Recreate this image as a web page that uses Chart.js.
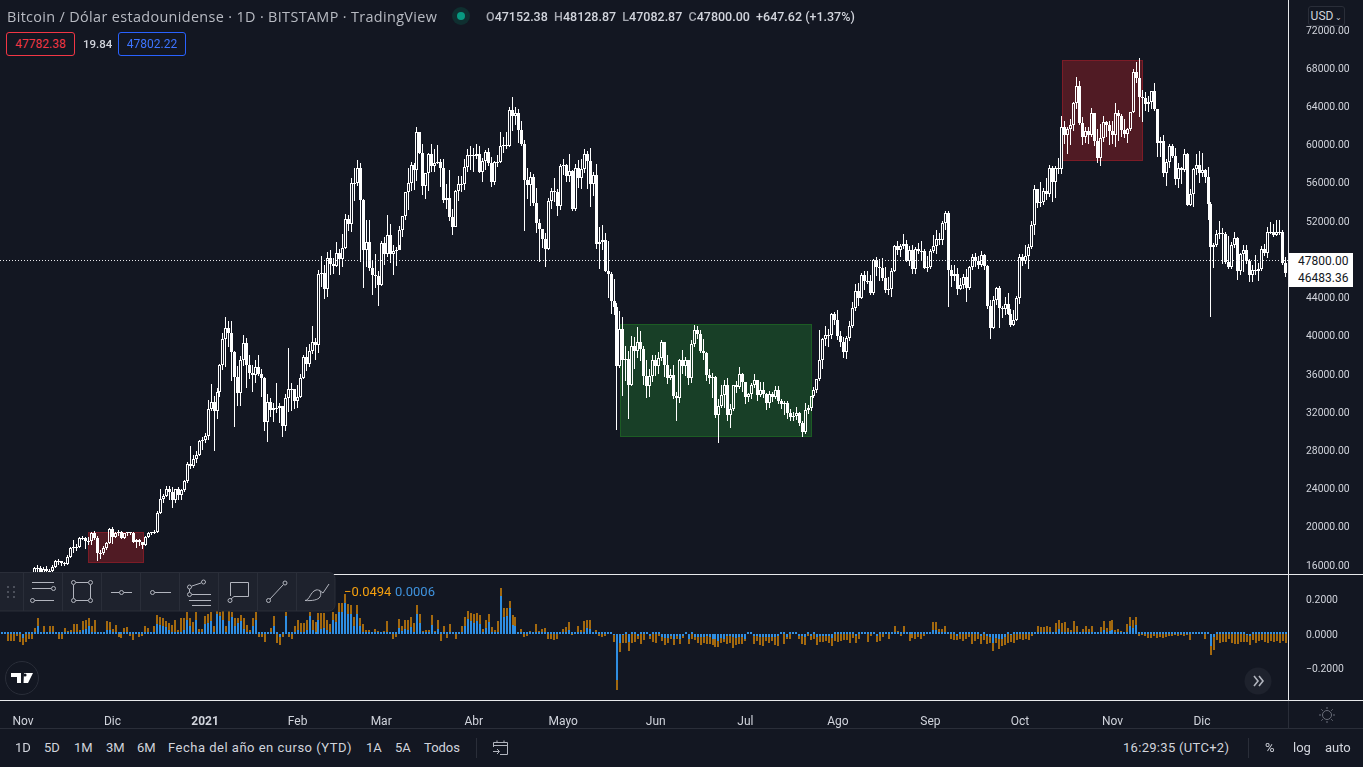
<!DOCTYPE html>
<html>
<head>
<meta charset="utf-8">
<title>BTCUSD</title>
<script src="https://cdn.jsdelivr.net/npm/chart.js@4/dist/chart.umd.min.js"></script>
<style>
  html, body { margin: 0; padding: 0; background: #131722; overflow: hidden; }
  body { width: 1363px; height: 767px; position: relative; font-family: Roboto, sans-serif; color: #d1d4dc; }
  canvas { position: absolute; left: 0; display: block; }
  .t { position: absolute; white-space: nowrap; font-size: 13px; line-height: 16px; }
  .hl { position: absolute; background: #d1d4dc; }
  .dim { position: absolute; background: #2a2e39; }
  .gray { color: #a3a6af; }
  .box { position: absolute; border-radius: 3px; font-size: 12px; line-height: 22px; text-align: center; box-sizing: border-box; height: 24px; background: #131722; }
  .lastp { position: absolute; left: 1289px; width: 64px; height: 17px; background: #fff; color: #131722; font-size: 12px; line-height: 17px; padding-left: 9px; box-sizing: border-box; }
</style>
</head>
<body>
<canvas id="price" width="1363" height="574" style="top:0"></canvas>
<canvas id="osc" width="1363" height="153" style="top:575px"></canvas>

<div class="hl" style="left:0;top:574px;width:1363px;height:1px;background:#e8e9ec"></div>
<div class="hl" style="left:0;top:700px;width:1363px;height:1px;background:#e8e9ec"></div>
<div class="hl" style="left:1288px;top:0;width:1px;height:701px;background:#e8e9ec"></div>
<div class="dim" style="left:0;top:728px;width:1363px;height:1px"></div>
<div class="dim" style="left:1288px;top:701px;width:1px;height:27px"></div>

<div class="t gray" style="left:7px;top:9px;font-family:'Open Sans',sans-serif;font-size:14.4px;letter-spacing:.35px;color:#b8bbc3">Bitcoin / Dólar estadounidense · 1D · BITSTAMP · TradingView</div>
<svg style="position:absolute;left:451px;top:7px" width="20" height="20"><circle cx="10" cy="9" r="9" fill="#0f2f30"/><circle cx="10" cy="9" r="4" fill="#089981"/></svg>
<div class="t" style="left:486px;top:9px;font-size:12.5px;font-weight:500"><span class="gray">O</span>47152.38&nbsp; <span class="gray">H</span>48128.87&nbsp; <span class="gray">L</span>47082.87&nbsp; <span class="gray">C</span>47800.00&nbsp; +647.62 (+1.37%)</div>
<div class="box" style="left:6px;top:32px;width:69px;border:1px solid #f23645;color:#f23645">47782.38</div>
<div class="t" style="left:83px;top:36px;font-size:11.5px;font-weight:500">19.84</div>
<div class="box" style="left:118px;top:32px;width:68px;border:1px solid #2962ff;color:#3d74ff">47802.22</div>
<div class="box" style="left:1308px;top:6px;width:37px;height:20px;line-height:18px;border:1px solid #2a2e39;font-size:12px;color:#d1d4dc">USD<span style="font-size:8px"> ⌄</span></div>
<div class="lastp" style="top:253px">47800.00</div>
<div class="lastp" style="top:270px">46483.36</div>

<div class="t" style="left:344px;top:584px;font-size:13px;color:#f5a00f">−0.0494</div>
<div class="t" style="left:395px;top:584px;font-size:13px;color:#3f93de">0.0006</div>

<!-- drawing toolbar -->
<svg style="position:absolute;left:0;top:572px" width="336" height="40" fill="none" stroke="#b2b5be" stroke-width="1">
  <path d="M-2 .5H329a6 6 0 0 1 6 6V33a6 6 0 0 1-6 6H-2Z" fill="#1e222d" stroke="#2a2e39"/>
  <path d="M23.5 1V39M62.5 1V39M101.5 1V39M140.5 1V39M179.5 1V39M218.5 1V39M257.5 1V39M296.5 1V39" stroke="#2a2e39"/>
  <g fill="#4c505b" stroke="none"><rect x="7" y="14" width="2" height="2"/><rect x="13" y="14" width="2" height="2"/><rect x="7" y="19" width="2" height="2"/><rect x="13" y="19" width="2" height="2"/><rect x="7" y="24" width="2" height="2"/><rect x="13" y="24" width="2" height="2"/></g>
  <path d="M32 10.5H54M32 16.5H51M35 28.5H54"/><circle cx="53.5" cy="16.5" r="2"/><circle cx="32.5" cy="28.5" r="2"/>
  <path d="M76 10.5H88M76 28.5H88M73.5 13V26M90.5 13V26"/><circle cx="73.5" cy="10.5" r="2"/><circle cx="90.5" cy="10.5" r="2"/><circle cx="73.5" cy="28.5" r="2"/><circle cx="90.5" cy="28.5" r="2"/>
  <path d="M111 20.5H119M124 20.5H132"/><circle cx="121.5" cy="20.5" r="2"/>
  <path d="M155 20.5H171"/><circle cx="152.5" cy="20.5" r="2"/>
  <path d="M192 14L201 11M189.5 17V20M192 22.5H211M189 28.5H211M192 33.5H211" /><circle cx="189.5" cy="15" r="2"/><circle cx="203.5" cy="10" r="2"/><circle cx="189.5" cy="22.5" r="2"/>
  <path d="M230.5 10.5H248.5V24.5H234L231 27M230.5 10.5V24"/><circle cx="230" cy="28.5" r="2"/>
  <path d="M270 27L283 13"/><circle cx="268.5" cy="28.5" r="2"/><circle cx="285" cy="11" r="2"/>
  <path d="M305 28.5C310 28 310 20 316 18C320 17 322 21 320 25C318 28 312 29 305 28.5ZM319 18L323 21L329 12"/>
</svg>

<!-- logo and scroll button -->
<svg style="position:absolute;left:4px;top:660px" width="36" height="36"><circle cx="18" cy="18" r="16.5" fill="#131722" stroke="#2a2e39"/>
  <path d="M7 13H17V23H13V17H7ZM20 13H29L24 23H19.5Z" fill="#fff"/><circle cx="21" cy="15" r="1.6" fill="#131722"/></svg>
<svg style="position:absolute;left:1244px;top:667px" width="28" height="28"><circle cx="14" cy="14" r="13.5" fill="#1e222d"/><path d="M10 9L14 14L10 19M15 9L19 14L15 19" fill="none" stroke="#b2b5be" stroke-width="1.6"/></svg>
<svg style="position:absolute;left:1318px;top:706px" width="18" height="18" fill="none" stroke="#6b6f7a"><circle cx="9" cy="9" r="4.5"/><path d="M9 1V3M9 15V17M1 9H3M15 9H17M3.3 3.3L4.8 4.8M13.2 13.2L14.7 14.7M3.3 14.7L4.8 13.2M13.2 4.8L14.7 3.3"/></svg>

<!-- bottom bar -->
<div class="t" style="left:15px;top:740px">1D</div>
<div class="t" style="left:44px;top:740px">5D</div>
<div class="t" style="left:74px;top:740px">1M</div>
<div class="t" style="left:106px;top:740px">3M</div>
<div class="t" style="left:137px;top:740px">6M</div>
<div class="t" style="left:168px;top:740px;letter-spacing:.5px">Fecha del año en curso (YTD)</div>
<div class="t" style="left:366px;top:740px">1A</div>
<div class="t" style="left:395px;top:740px">5A</div>
<div class="t" style="left:424px;top:740px">Todos</div>
<div class="dim" style="left:476px;top:738px;width:1px;height:20px"></div>
<svg style="position:absolute;left:491px;top:739px" width="20" height="18" fill="none" stroke="#b2b5be"><path d="M2.5 8V3.5H16.5V15.5H9M2.5 6.5H16.5M6 1.5V4M13 1.5V4M2 12.5H8M6 10L8.5 12.5L6 15"/></svg>
<div class="t" style="left:1123px;top:740px;letter-spacing:.3px">16:29:35 (UTC+2)</div>
<div class="dim" style="left:1248px;top:738px;width:1px;height:20px"></div>
<div class="t" style="left:1265px;top:740px">%</div>
<div class="t" style="left:1293px;top:740px">log</div>
<div class="t" style="left:1325px;top:740px">auto</div>

<script>
// daily candles, Oct 24 2020 to Dec 29 2021, prices in thousands of USD
const firstOpen = 12.9;
const closes = [
  13.0,13.0,13.1,13.6,13.3,13.5,13.6,13.8,
  13.8,13.6,14.0,14.1,15.6,15.6,14.8,15.5,15.3,15.3,15.7,16.3,16.3,16.1,16.0,16.7,17.7,17.8,17.8,18.7,18.7,18.4,18.4,19.2,18.7,17.1,17.1,17.7,18.2,19.7,
  18.8,19.2,19.4,18.7,19.2,19.4,19.2,18.3,18.5,18.3,18.0,18.8,19.2,19.3,19.4,21.3,22.8,23.1,23.9,23.5,22.7,23.8,23.2,23.7,24.7,26.5,26.3,27.0,27.4,28.9,29.0,
  29.4,32.2,33.0,32.0,34.0,36.8,39.5,40.7,40.2,38.2,35.6,33.9,37.4,39.1,36.8,36.0,35.8,36.6,35.9,35.5,30.9,33.0,32.1,32.3,32.3,32.5,30.4,33.4,34.3,34.3,33.1,
  33.5,35.5,37.7,36.9,38.3,39.2,38.9,46.4,46.5,44.8,48.0,47.4,47.2,48.6,47.9,49.1,52.1,51.6,55.9,55.9,57.4,54.1,48.9,49.7,47.0,46.2,46.1,45.2,
  49.6,48.4,50.4,48.4,48.8,48.9,51.0,52.4,54.9,55.9,57.8,57.2,61.2,59.0,55.6,56.9,58.9,57.7,58.0,58.1,57.4,54.1,54.3,52.3,51.3,55.0,55.8,55.8,57.6,58.8,58.8,
  58.7,58.9,57.0,58.2,59.1,58.0,56.0,58.1,58.1,59.8,59.9,59.8,63.5,62.9,63.2,61.4,60.0,56.2,55.7,56.5,53.8,51.7,51.1,50.0,49.0,54.0,55.0,54.9,53.5,57.7,
  57.8,56.6,57.1,53.2,57.4,56.4,57.3,58.9,58.2,55.8,56.7,49.5,49.7,49.9,46.7,46.4,43.5,42.9,36.7,40.6,37.3,37.5,34.7,38.8,38.3,39.2,38.5,35.7,34.6,35.7,37.3,
  36.7,37.6,39.2,36.8,35.5,35.8,33.6,33.4,37.4,36.7,37.3,35.5,39.0,40.5,40.1,38.3,38.1,35.8,35.5,35.6,31.6,32.5,33.7,34.7,31.6,32.2,34.7,34.5,35.9,35.0,
  33.5,33.8,34.7,35.3,33.7,34.2,33.8,32.9,33.8,33.5,34.2,33.1,32.7,32.8,31.8,31.4,31.5,31.8,30.8,29.8,32.1,32.3,33.6,34.2,35.4,37.3,39.5,40.0,40.0,42.2,41.5,
  39.9,39.2,38.2,39.7,40.9,42.8,44.6,43.8,46.3,45.6,45.6,44.4,47.8,47.1,47.0,45.9,44.7,44.8,46.7,49.3,48.9,49.3,49.5,47.7,48.9,46.9,49.0,48.8,48.8,47.0,47.1,
  48.8,49.3,50.0,49.9,51.7,52.7,46.8,46.1,46.4,44.8,45.2,46.0,44.9,47.1,48.1,47.7,47.3,48.3,47.2,43.0,40.7,43.6,44.9,42.8,42.7,43.2,42.2,41.0,41.5,43.8,
  48.1,47.7,48.2,49.2,51.5,55.3,53.8,53.9,55.0,54.7,57.5,56.0,57.4,57.3,61.7,60.9,61.5,62.0,64.3,66.0,62.2,60.7,61.3,60.9,63.2,60.3,58.5,60.6,62.3,61.9,61.3,
  60.9,63.2,62.9,61.4,61.0,61.5,63.3,67.5,66.9,64.9,64.8,64.1,64.4,65.5,63.6,60.1,60.3,56.9,58.1,59.7,58.7,56.3,57.5,57.2,58.9,53.6,54.7,57.3,57.8,56.95,
  57.2,56.5,53.7,49.2,49.4,50.5,50.6,50.5,47.6,47.1,49.4,50.1,46.7,48.4,48.9,47.7,46.2,46.8,46.7,46.9,49.0,48.6,50.8,50.8,50.4,50.8,50.7,47.5,46.5
];
const highs = [
  13.2,13.2,13.3,13.8,13.9,13.6,13.7,14.1,
  13.9,13.9,14.1,14.3,15.7,15.9,15.8,15.7,15.8,15.5,15.9,16.4,16.5,16.3,16.2,16.9,17.8,18.5,18.1,18.8,18.9,18.8,18.8,19.4,19.5,18.9,17.5,17.9,18.3,19.8,
  19.9,19.3,19.6,19.5,19.2,19.4,19.4,19.3,18.6,18.6,18.3,18.9,19.4,19.4,19.6,21.5,23.8,23.3,24.2,24.2,24.1,23.9,24.1,23.8,24.8,26.7,28.4,27.4,27.8,29.0,29.3,
  29.7,33.2,34.8,33.6,34.4,36.9,40.2,41.9,41.4,41.4,38.3,36.7,37.8,40.0,39.7,37.9,36.8,37.3,37.9,36.4,35.6,33.8,33.4,32.9,34.9,32.9,32.5,33.8,38.6,34.9,34.3,
  34.7,35.9,37.9,38.7,39.0,40.9,39.7,46.8,48.2,47.3,48.7,48.9,48.0,49.7,49.0,50.5,52.6,52.5,56.4,57.5,58.3,58.0,54.2,52.0,52.0,47.8,48.4,46.7,
  49.8,50.2,52.5,51.6,49.4,49.2,51.4,52.4,54.9,57.4,58.1,58.0,61.7,61.1,60.0,56.9,59.0,60.0,59.4,59.9,58.4,58.4,55.8,57.2,53.2,55.1,56.6,56.6,58.4,59.4,59.8,
  59.5,60.0,59.7,58.5,59.3,59.5,58.6,58.2,58.8,61.2,60.7,61.2,63.8,64.9,63.8,63.6,62.4,60.4,57.5,57.0,56.8,55.4,52.1,51.1,50.6,54.3,55.4,56.4,55.2,57.9,
  58.4,57.9,58.9,57.2,57.9,58.3,58.4,59.4,59.2,59.5,57.0,57.9,51.3,51.5,50.6,49.8,46.6,45.8,43.3,42.5,41.9,38.8,38.3,39.9,39.8,40.8,40.4,38.8,37.3,36.4,37.9,
  37.9,38.2,39.4,39.2,37.9,36.4,36.8,34.0,37.5,38.4,37.7,37.4,39.4,41.0,40.9,40.5,39.5,38.2,36.4,36.0,35.7,33.3,34.7,35.3,35.5,32.7,34.7,35.2,36.6,36.0,
  35.0,33.9,34.9,35.9,35.3,35.0,35.0,33.9,34.1,34.0,34.6,34.6,33.3,33.1,33.1,32.2,31.9,32.4,31.9,31.0,32.8,32.6,33.6,34.5,35.4,40.5,39.7,40.9,40.6,42.3,42.4,
  42.6,40.4,39.8,39.9,41.4,43.4,45.3,45.4,46.5,46.7,46.7,46.2,47.9,48.1,47.9,48.0,47.1,46.0,47.0,49.4,49.8,49.5,50.5,49.9,49.3,49.4,49.2,49.6,49.8,49.0,48.2,
  49.0,50.4,51.0,50.6,51.9,52.9,52.9,47.3,47.3,47.0,45.9,46.4,46.9,47.2,48.4,48.5,48.2,48.8,48.4,47.3,43.6,44.0,45.0,45.1,43.0,43.9,44.4,42.7,42.6,44.1,
  48.4,48.4,49.4,49.5,51.9,55.7,55.1,56.0,55.4,56.4,57.8,57.7,57.7,58.5,62.9,62.4,61.7,62.6,64.4,67.0,66.6,62.8,61.7,61.7,63.7,63.2,61.5,62.1,62.9,62.4,62.4,
  62.4,64.3,63.5,63.1,62.6,61.6,63.3,67.8,68.5,69.0,65.6,65.4,65.0,65.4,66.3,63.5,60.7,60.9,58.4,60.0,60.0,59.5,58.0,57.6,59.4,59.0,55.3,57.5,58.9,59.2,
  59.0,57.3,57.6,53.9,49.6,51.0,51.9,51.2,50.8,50.3,49.7,50.8,50.2,48.5,49.4,49.4,47.9,47.3,48.3,47.5,49.3,49.5,51.3,51.8,51.6,52.0,52.0,51.0,48.1
];
const lows = [
  12.9,12.9,12.8,13.0,12.9,13.0,13.1,13.5,
  13.6,13.3,13.5,13.8,14.1,15.2,14.4,14.7,15.1,15.1,15.3,15.6,15.9,15.8,15.8,15.9,16.6,17.2,17.4,17.7,18.5,17.6,18.0,18.0,18.5,16.3,16.5,16.9,17.5,18.2,
  18.1,18.7,18.9,18.6,18.6,18.9,19.0,18.2,17.7,17.9,17.6,18.0,18.7,19.0,19.1,19.4,21.2,22.4,23.0,22.7,21.9,22.4,22.7,22.7,23.5,24.5,25.9,26.1,26.6,27.3,27.9,
  28.7,29.0,32.0,27.8,31.2,33.5,36.3,36.6,38.7,35.2,30.3,32.5,32.5,36.7,34.4,35.4,34.0,34.9,35.7,33.5,29.9,28.8,31.4,30.9,31.8,30.8,29.3,29.9,31.9,32.0,32.2,
  32.3,33.4,35.4,36.2,36.6,38.0,37.4,38.1,45.0,43.7,43.9,46.2,46.4,47.1,46.3,47.1,49.0,50.9,50.7,54.0,55.6,47.6,44.9,47.1,46.7,44.2,44.9,43.0,
  45.2,47.3,48.1,47.5,46.3,47.2,49.4,50.2,52.0,53.1,55.0,55.1,56.1,59.0,54.6,54.2,55.0,57.0,57.0,57.9,55.5,53.8,53.2,51.9,50.4,51.4,54.0,54.9,55.1,57.0,57.2,
  57.0,58.4,56.9,56.0,57.2,57.7,55.5,55.7,57.6,58.0,59.0,59.4,59.8,61.3,62.0,60.1,59.7,50.9,54.2,53.5,53.5,50.6,47.6,49.1,47.1,48.9,53.2,53.9,52.4,53.1,
  56.7,56.0,56.0,53.0,52.9,55.4,55.3,56.9,55.2,53.4,54.5,49.0,46.9,48.9,46.6,43.8,42.2,42.1,30.0,36.5,33.6,35.2,31.2,34.7,36.4,37.6,37.2,34.7,33.4,33.5,35.0,
  35.7,35.9,37.2,35.6,34.8,35.3,33.3,31.0,32.9,35.9,35.7,34.7,34.9,38.7,39.5,38.1,37.4,35.2,34.8,33.4,31.3,28.7,32.3,32.3,31.0,30.2,32.0,33.9,34.3,34.0,
  32.7,33.0,33.3,34.4,33.1,33.5,33.4,32.1,32.3,33.0,33.3,32.7,32.2,31.6,31.2,31.0,31.0,31.1,30.4,29.3,29.6,31.7,32.0,33.4,33.9,35.2,36.4,38.8,38.7,39.5,41.0,
  39.4,38.7,37.6,37.5,39.3,40.7,42.5,43.0,43.7,44.7,45.3,44.2,44.2,46.1,45.6,45.6,44.4,44.2,43.9,46.6,48.3,48.1,49.0,47.6,47.2,46.4,46.4,48.4,47.8,46.9,46.6,
  46.9,48.5,48.4,49.4,49.4,51.0,42.9,45.0,45.6,44.2,44.8,44.8,43.4,44.7,46.8,47.1,46.9,47.1,46.8,42.7,39.6,40.7,43.1,40.7,41.7,42.1,42.1,40.8,41.0,41.5,
  43.2,47.2,47.4,46.9,49.0,50.4,53.3,53.4,53.6,54.1,54.4,53.9,54.3,56.8,56.8,60.0,58.9,59.9,61.3,63.6,62.0,59.9,60.1,60.0,60.7,59.8,58.0,57.7,60.2,60.7,59.9,
  60.0,59.6,60.3,60.7,60.6,60.1,61.3,63.3,66.3,62.8,62.3,63.4,63.3,63.6,63.4,58.6,58.6,56.5,55.6,57.5,58.5,55.7,55.4,55.8,57.0,53.5,53.6,53.4,56.7,55.9,
  56.5,55.9,52.0,41.9,47.0,49.2,50.0,47.4,47.4,46.9,46.9,49.1,45.7,46.3,46.6,47.4,45.5,45.5,46.3,45.6,46.7,48.2,48.0,50.5,50.2,50.4,50.4,47.3,46.0
];
const priceTicks = [16000,20000,24000,28000,32000,36000,40000,44000,48000,52000,56000,60000,64000,68000,72000];
const lastPrice = 47800;

// drawn boxes: first candle, last candle, low price, high price
const redZones = [[29.8,48.2,16210,19350],[356,382.9,58290,68750]];
const greenZones = [[208,272,29400,41120]];

// oscillator pane, in thousandths
const oscOrange = [
  15,15,15,-40,-40,-40,-10,-45,-65,-45,
  -25,-25,35,95,15,45,15,45,50,15,
  -30,-25,38,18,25,60,60,25,75,85,
  95,45,80,15,10,15,75,70,30,55,
  -15,-20,35,40,-10,-35,15,-15,-10,50,
  35,15,50,110,100,95,75,65,55,80,
  25,95,95,130,95,70,130,30,30,105,
  120,130,50,135,130,135,50,135,130,95,
  95,110,95,55,25,95,130,-15,-15,-45,
  10,35,105,-50,-65,-15,130,-15,-30,45,
  85,65,65,85,130,80,70,125,125,125,
  85,60,130,120,180,
  180,235,175,170,100,170,95,60,25,25,
  15,30,20,15,20,75,15,-30,-15,90,
  50,85,80,100,65,170,115,20,25,25,
  110,20,85,-40,45,-20,60,15,-25,15,
  50,100,135,125,115,125,110,30,85,120,
  40,25,75,265,150,150,195,110,100,15,
  30,-15,-10,20,15,60,20,30,35,-30,
  -30,-35,-25,10,30,40,70,-5,15,50,
  25,75,85,80,15,25,-10,-15,-10,15,
  10,-45,-322,-105,-50,-50,-100,-50,-45,-25,
  -55,-35,10,-30,-45,-50,-10,-40,-60,-50,
  -30,-60,-30,-55,-20,10,-55,-30,-35,-50,
  -60,-50,-55,-55,-65,-75,-75,-50,-45,-55,
  -50,-80,-60,-55,-55,-40,10,10,-55,-40,
  -60,-70,-40,-50,-40,-60,-70,10,-55,-30,
  -25,10,10,-30,-55,-60,-10,-35,-30,-60,
  -45,-45,-40,-50,-70,-40,-45,-40,-35,-35,
  -50,-20,-50,-25,10,10,-45,-10,10,-45,
  -40,-15,15,-25,15,50,20,-10,45,15,
  -40,-20,-30,-15,-30,-10,10,15,70,70,
  30,30,45,10,-30,-35,-35,-30,-40,-25,
  -15,-55,-40,-30,-55,-35,-55,-50,-100,-50,
  -85,-70,-60,-50,-45,-50,-35,-25,-35,-25,
  -35,-10,15,45,40,40,50,40,15,65,
  80,65,70,35,25,75,50,15,30,45,
  30,45,15,15,40,75,35,75,80,25,
  30,20,15,60,100,80,100,-10,-5,-10,
  -20,-20,-10,-20,-15,-20,-15,-10,-10,-5,
  -10,-5,-10,-5,-35,10,10,10,15,-30,
  10,-120,-90,-35,-50,-45,-45,-30,-50,-55,
  -55,-45,-45,-45,-60,-35,-50,-40,-35,-45,
  -50,-40,-45,-40,-50,-40,-50
];
const oscBlue = [
  15,15,15,15,15,15,15,15,-20,15,
  15,15,15,45,15,15,15,15,15,15,
  15,15,15,15,15,15,15,15,25,30,
  50,15,15,15,10,15,25,25,15,15,
  15,15,10,15,15,15,15,10,15,15,
  15,15,15,60,55,50,40,25,15,15,
  15,15,25,85,45,15,85,10,10,60,
  65,75,15,120,105,85,15,75,100,50,
  65,75,30,15,10,50,85,15,15,15,
  10,15,50,15,-15,15,105,15,15,15,
  25,15,15,25,105,25,15,80,30,35,
  25,15,80,70,130,
  130,180,120,120,50,115,45,15,15,15,
  15,15,15,15,15,15,15,15,15,35,
  20,30,25,40,15,115,65,15,15,15,
  55,15,30,15,15,15,15,15,15,15,
  15,50,90,75,65,75,60,15,35,70,
  15,15,15,220,100,105,150,55,45,15,
  10,10,10,10,10,10,10,10,10,10,
  10,10,10,10,10,15,25,10,15,10,
  10,15,35,30,10,10,10,10,10,10,
  10,-5,-268,-50,-5,10,-45,10,10,-10,
  10,10,10,-10,10,10,10,-15,-20,-20,
  -10,-25,-10,-25,-10,10,-25,10,-15,-15,
  -15,-15,-10,-15,-25,-30,-40,-20,-25,-10,
  -10,-15,-20,-15,-15,-25,10,10,-10,-10,
  -15,-15,-15,-15,-15,-15,-10,10,10,-15,
  10,10,10,-10,-10,-15,10,-10,10,-15,
  -10,-10,-10,-10,-20,10,10,10,10,10,
  10,10,-10,10,10,10,10,10,10,-10,
  10,10,15,10,10,15,15,10,10,10,
  10,10,10,10,10,10,15,15,25,25,
  15,15,15,10,10,10,-10,10,10,10,
  10,10,10,10,-10,10,-10,-15,-50,-20,
  -30,-25,-15,10,-5,10,10,10,10,10,
  10,10,10,10,15,15,15,15,10,10,
  30,10,15,10,15,15,15,10,10,15,
  10,10,10,10,15,25,10,20,25,15,
  15,10,10,15,50,35,55,10,10,10,
  10,10,10,10,10,10,10,10,10,10,
  10,10,10,10,10,10,10,10,10,10,
  10,-70,-15,10,10,10,10,10,10,10,
  10,10,10,-5,-10,10,10,10,10,10,
  10,10,10,10,10,10,10
];
const oscTicks = [0.2, 0, -0.2];

// x axis labels and the candle each one sits on
const monthLabels = ['Nov','Dic','2021','Feb','Mar','Abr','Mayo','Jun','Jul','Ago','Sep','Oct','Nov','Dic'];
const monthStarts = [8,38,69,100,128,159,189,220,250,281,312,342,373,403];

const FONT = 'Roboto, sans-serif';
const TEXT = '#d1d4dc';
const WHITE = '#ffffff';
// visible window of the time axis, in candles
const X_MIN = 0.3, X_MAX = 431.8;

Chart.defaults.font.family = FONT;
Chart.defaults.animation = false;

// the panes run edge to edge, so no room is kept for the first and last labels
const noPadding = s => {
  s.paddingTop = s.paddingBottom = s.paddingLeft = s.paddingRight = 0;
};

// pull bars onto whole pixels so thin candles stay crisp
const snapBars = {
  id: 'snapBars',
  afterDatasetsUpdate(chart) {
    chart.data.datasets.forEach((ds, i) => {
      const w = ds.barThickness;
      chart.getDatasetMeta(i).data.forEach(el => {
        el.width = w;
        el.x = w % 2 ? Math.floor(el.x) + 0.5 : Math.round(el.x);
        el.y = Math.round(el.y);
        el.base = Math.round(el.base);
        if (el.y === el.base) el.base = el.y + 1;
        el.height = el.base - el.y;
      });
    });
  }
};

const zones = {
  id: 'zones',
  beforeDatasetsDraw(chart) {
    const { ctx, scales: { x, y } } = chart;
    const paint = (list, fill, line) => list.forEach(z => {
      const left = Math.round(x.getPixelForValue(z[0])), right = Math.round(x.getPixelForValue(z[1]));
      const top = Math.round(y.getPixelForValue(z[3])), bottom = Math.round(y.getPixelForValue(z[2]));
      ctx.fillStyle = fill;
      ctx.fillRect(left, top, right - left, bottom - top);
      ctx.strokeStyle = line;
      ctx.lineWidth = 1;
      ctx.strokeRect(left + 0.5, top + 0.5, right - left, bottom - top);
    });
    paint(redZones, '#501b24', '#7c1c27');
    paint(greenZones, '#183f27', '#1c5c24');
  }
};

const lastLine = {
  id: 'lastLine',
  afterDatasetsDraw(chart) {
    const { ctx, chartArea, scales: { y } } = chart;
    const py = Math.round(y.getPixelForValue(lastPrice)) + 0.5;
    ctx.save();
    ctx.strokeStyle = '#e8e9ec';
    ctx.lineWidth = 1;
    ctx.setLineDash([1, 2]);
    ctx.beginPath();
    ctx.moveTo(chartArea.left, py);
    ctx.lineTo(chartArea.right, py);
    ctx.stroke();
    ctx.restore();
  }
};

const opens = closes.map((c, i) => i ? closes[i - 1] : firstOpen);
const upBodies = [], downBodies = [], wicks = [];
closes.forEach((c, i) => {
  const o = opens[i], top = Math.max(o, c), bottom = Math.min(o, c);
  (c >= o ? upBodies : downBodies).push({ x: i, y: [o * 1000, c * 1000] });
  wicks.push({ x: i, y: [lows[i] * 1000, bottom * 1000] });
  wicks.push({ x: i, y: [top * 1000, highs[i] * 1000] });
});

new Chart(document.getElementById('price'), {
  type: 'bar',
  data: {
    datasets: [
      { data: upBodies, barThickness: 3, backgroundColor: 'rgba(0,0,0,0)', borderColor: WHITE, borderWidth: 1, borderSkipped: false, inflateAmount: 0 },
      { data: downBodies, barThickness: 3, backgroundColor: WHITE, borderWidth: 0, inflateAmount: 0 },
      { data: wicks, barThickness: 1, backgroundColor: WHITE, borderWidth: 0, inflateAmount: 0 }
    ]
  },
  options: {
    responsive: false,
    devicePixelRatio: 1,
    datasets: { bar: { grouped: false } },
    layout: { padding: 0, autoPadding: false },
    plugins: { legend: { display: false }, tooltip: { enabled: false } },
    scales: {
      x: { type: 'linear', offset: false, min: X_MIN, max: X_MAX, display: false },
      y: {
        position: 'right',
        min: 14953,
        max: 75033,
        grid: { display: false },
        border: { display: false },
        afterBuildTicks: s => { s.ticks = priceTicks.map(v => ({ value: v })); },
        afterFit: s => { s.width = 75; noPadding(s); },
        ticks: { color: TEXT, font: { family: FONT, size: 10.4 }, padding: 10, labelOffset: 2, callback: v => v.toFixed(2) }
      }
    }
  },
  plugins: [snapBars, zones, lastLine]
});

new Chart(document.getElementById('osc'), {
  type: 'bar',
  data: {
    datasets: [
      { data: oscBlue.map((v, i) => ({ x: i, y: v / 1000 })), barThickness: 2, backgroundColor: '#2f8ee2', borderWidth: 0, inflateAmount: 0 },
      { data: oscOrange.map((v, i) => ({ x: i, y: v / 1000 })), barThickness: 2, backgroundColor: '#a3690f', borderWidth: 0, inflateAmount: 0 }
    ]
  },
  options: {
    responsive: false,
    devicePixelRatio: 1,
    datasets: { bar: { grouped: false } },
    layout: { padding: 0, autoPadding: false },
    plugins: { legend: { display: false }, tooltip: { enabled: false } },
    scales: {
      x: {
        type: 'linear',
        offset: false,
        min: X_MIN,
        max: X_MAX,
        grid: { display: false },
        border: { display: false },
        afterBuildTicks: s => { s.ticks = monthStarts.map(v => ({ value: v })); },
        afterFit: s => { s.height = 28; noPadding(s); },
        ticks: {
          color: TEXT,
          padding: 7,
          maxRotation: 0,
          autoSkip: false,
          font: ctx => ({ family: FONT, size: 12, weight: monthLabels[ctx.index] === '2021' ? 'bold' : 'normal' }),
          callback: (v, i) => monthLabels[i]
        }
      },
      y: {
        position: 'right',
        min: -0.3814,
        max: 0.3432,
        grid: { display: false },
        border: { display: false },
        afterBuildTicks: s => { s.ticks = oscTicks.map(v => ({ value: v })); },
        afterFit: s => { s.width = 75; noPadding(s); },
        ticks: { color: TEXT, font: { family: FONT, size: 10.4 }, padding: 10, labelOffset: 1, callback: v => (v < 0 ? '−' : '') + Math.abs(v).toFixed(4) }
      }
    }
  },
  plugins: [snapBars]
});
</script>
</body>
</html>
